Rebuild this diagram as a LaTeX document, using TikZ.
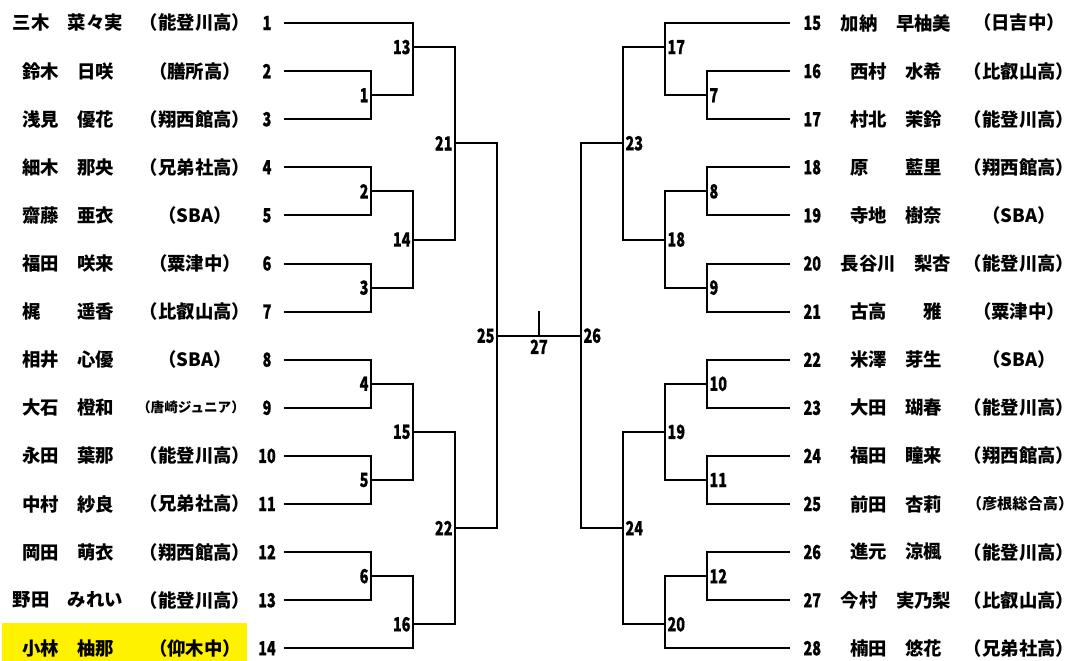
\documentclass[tikz,border=0pt]{standalone}
\usepackage{fontspec}
\setmainfont{Noto Sans CJK JP}
\newfontfamily\numfont{Noto Sans CJK JP}[FakeStretch=0.74,FakeBold=0.6]
\newcommand{\jpsize}{\fontsize{13.8}{16}\selectfont}
\newcommand{\smallsch}{\fontsize{10.2}{12}\selectfont}
\newcommand{\midsch}{\fontsize{11.4}{13}\selectfont}

\tikzset{every picture/.style={line width=0.75pt},
  tline/.style={line width=1.5pt},
  num/.style={inner sep=0.75pt, font={\numfont\bfseries\fontsize{14.6}{16}\selectfont}},
  nm/.style={inner sep=0.75pt, font={\bfseries\jpsize}},
  mL/.style={num, anchor=east, inner sep=1.5pt},
  mR/.style={num, anchor=west, inner sep=1.5pt}}

\begin{document}
\begin{tikzpicture}[x=0.75pt,y=0.75pt,yscale=-1,xscale=1]
\useasboundingbox (0,0) rectangle (1072,661);

%highlight of entry 14
\fill [yellow] (2,623) rectangle (247,661);

%left entries
\node [num] (n1) at (267,23) {1};       \node [nm] (nm1) at (68,23) {三木　菜々実};   \node [nm] (sc1) at (195,23) {（能登川高）};
\node [num] (n2) at (267,71.1) {2};     \node [nm] (nm2) at (68,71.1) {鈴木　日咲};   \node [nm] (sc2) at (195,71.1) {（膳所高）};
\node [num] (n3) at (267,119.2) {3};    \node [nm] (nm3) at (68,119.2) {浅見　優花};  \node [nm] (sc3) at (195,119.2) {（翔西館高）};
\node [num] (n4) at (267,167.3) {4};    \node [nm] (nm4) at (68,167.3) {細木　那央};  \node [nm] (sc4) at (195,167.3) {（兄弟社高）};
\node [num] (n5) at (267,215.4) {5};    \node [nm] (nm5) at (68,215.4) {齋藤　亜衣};  \node [nm] (sc5) at (195,215.4) {（SBA）};
\node [num] (n6) at (267,263.5) {6};    \node [nm] (nm6) at (68,263.5) {福田　咲来};  \node [nm] (sc6) at (195,263.5) {（粟津中）};
\node [num] (n7) at (267,311.6) {7};    \node [nm] (nm7) at (68,311.6) {梶　　遥香};  \node [nm] (sc7) at (195,311.6) {（比叡山高）};
\node [num] (n8) at (267,359.7) {8};    \node [nm] (nm8) at (68,359.7) {相井　心優};  \node [nm] (sc8) at (195,359.7) {（SBA）};
\node [num] (n9) at (267,407.8) {9};    \node [nm] (nm9) at (68,407.8) {大石　橙和};  \node [nm,font={\bfseries\smallsch}] (sc9) at (191,407.8) {（唐崎ジュニア）};
\node [num] (n10) at (267,455.9) {10};  \node [nm] (nm10) at (68,455.9) {永田　葉那}; \node [nm] (sc10) at (195,455.9) {（能登川高）};
\node [num] (n11) at (267,504) {11};    \node [nm] (nm11) at (68,504) {中村　紗良};   \node [nm] (sc11) at (195,504) {（兄弟社高）};
\node [num] (n12) at (267,552.1) {12};  \node [nm] (nm12) at (68,552.1) {岡田　萌衣}; \node [nm] (sc12) at (195,552.1) {（翔西館高）};
\node [num] (n13) at (267,600.2) {13};  \node [nm] (nm13) at (68,600.2) {野田　みれい}; \node [nm] (sc13) at (195,600.2) {（能登川高）};
\node [num] (n14) at (267,648.3) {14};  \node [nm] (nm14) at (68,648.3) {小林　柚那}; \node [nm] (sc14) at (195,648.3) {（仰木中）};

%right entries
\node [num,anchor=west] (n15) at (802,23) {15};    \node [nm] (nm15) at (896,23) {加納　早柚美};    \node [nm] (sc15) at (1019,23) {（日吉中）};
\node [num,anchor=west] (n16) at (802,71.1) {16};  \node [nm] (nm16) at (896,71.1) {西村　水希};    \node [nm] (sc16) at (1019,71.1) {（比叡山高）};
\node [num,anchor=west] (n17) at (802,119.2) {17}; \node [nm] (nm17) at (896,119.2) {村北　茉鈴};   \node [nm] (sc17) at (1019,119.2) {（能登川高）};
\node [num,anchor=west] (n18) at (802,167.3) {18}; \node [nm] (nm18) at (896,167.3) {原　　藍里};   \node [nm] (sc18) at (1019,167.3) {（翔西館高）};
\node [num,anchor=west] (n19) at (802,215.4) {19}; \node [nm] (nm19) at (896,215.4) {寺地　樹奈};   \node [nm] (sc19) at (1019,215.4) {（SBA）};
\node [num,anchor=west] (n20) at (802,263.5) {20}; \node [nm] (nm20) at (896,263.5) {長谷川　梨杏}; \node [nm] (sc20) at (1019,263.5) {（能登川高）};
\node [num,anchor=west] (n21) at (802,311.6) {21}; \node [nm] (nm21) at (896,311.6) {古高　　雅};   \node [nm] (sc21) at (1019,311.6) {（粟津中）};
\node [num,anchor=west] (n22) at (802,359.7) {22}; \node [nm] (nm22) at (896,359.7) {米澤　芽生};   \node [nm] (sc22) at (1019,359.7) {（SBA）};
\node [num,anchor=west] (n23) at (802,407.8) {23}; \node [nm] (nm23) at (896,407.8) {大田　瑚春};   \node [nm] (sc23) at (1019,407.8) {（能登川高）};
\node [num,anchor=west] (n24) at (802,455.9) {24}; \node [nm] (nm24) at (896,455.9) {福田　瞳来};   \node [nm] (sc24) at (1019,455.9) {（翔西館高）};
\node [num,anchor=west] (n25) at (802,504) {25};   \node [nm] (nm25) at (896,504) {前田　杏莉};     \node [nm,font={\bfseries\midsch}] (sc25) at (1020,504) {（彦根総合高）};
\node [num,anchor=west] (n26) at (802,552.1) {26}; \node [nm] (nm26) at (896,552.1) {進元　涼楓};   \node [nm] (sc26) at (1019,552.1) {（能登川高）};
\node [num,anchor=west] (n27) at (802,600.2) {27}; \node [nm] (nm27) at (896,600.2) {今村　実乃梨}; \node [nm] (sc27) at (1019,600.2) {（比叡山高）};
\node [num,anchor=west] (n28) at (802,648.3) {28}; \node [nm] (nm28) at (896,648.3) {楠田　悠花};   \node [nm] (sc28) at (1019,648.3) {（兄弟社高）};

%line ends next to the numbers
\coordinate (L1) at (284,23);      \coordinate (R15) at (790,23);
\coordinate (L2) at (284,71.1);    \coordinate (R16) at (790,71.1);
\coordinate (L3) at (284,119.2);   \coordinate (R17) at (790,119.2);
\coordinate (L4) at (284,167.3);   \coordinate (R18) at (790,167.3);
\coordinate (L5) at (284,215.4);   \coordinate (R19) at (790,215.4);
\coordinate (L6) at (284,263.5);   \coordinate (R20) at (790,263.5);
\coordinate (L7) at (284,311.6);   \coordinate (R21) at (790,311.6);
\coordinate (L8) at (284,359.7);   \coordinate (R22) at (790,359.7);
\coordinate (L9) at (284,407.8);   \coordinate (R23) at (790,407.8);
\coordinate (L10) at (284,455.9);  \coordinate (R24) at (790,455.9);
\coordinate (L11) at (284,504);    \coordinate (R25) at (790,504);
\coordinate (L12) at (284,552.1);  \coordinate (R26) at (790,552.1);
\coordinate (L13) at (284,600.2);  \coordinate (R27) at (790,600.2);
\coordinate (L14) at (284,648.3);  \coordinate (R28) at (790,648.3);

%match points
\coordinate (M1) at (371,95.2);   \coordinate (M7) at (707,95.2);
\coordinate (M2) at (371,191.4);  \coordinate (M8) at (707,191.4);
\coordinate (M3) at (371,287.6);  \coordinate (M9) at (707,287.6);
\coordinate (M4) at (371,383.8);  \coordinate (M10) at (707,383.8);
\coordinate (M5) at (371,480);    \coordinate (M11) at (707,480);
\coordinate (M6) at (371,576.2);  \coordinate (M12) at (707,576.2);
\coordinate (M13) at (413,47.1);  \coordinate (M17) at (665,47.1);
\coordinate (M14) at (413,239.5); \coordinate (M18) at (665,239.5);
\coordinate (M15) at (413,431.9); \coordinate (M19) at (665,431.9);
\coordinate (M16) at (413,624.3); \coordinate (M20) at (665,624.3);
\coordinate (M21) at (455,143.3); \coordinate (M23) at (623,143.3);
\coordinate (M22) at (455,528.1); \coordinate (M24) at (623,528.1);
\coordinate (M25) at (497,335.7); \coordinate (M26) at (581,335.7);
\coordinate (M27) at (539,335.7); \coordinate (M27t) at (539,311);

%left bracket
\draw [tline] (L2) -| (M1) |- (L3);
\draw [tline] (L4) -| (M2) |- (L5);
\draw [tline] (L6) -| (M3) |- (L7);
\draw [tline] (L8) -| (M4) |- (L9);
\draw [tline] (L10) -| (M5) |- (L11);
\draw [tline] (L12) -| (M6) |- (L13);
\draw [tline] (L1) -| (M13) |- (M1);
\draw [tline] (M2) -| (M14) |- (M3);
\draw [tline] (M4) -| (M15) |- (M5);
\draw [tline] (M6) -| (M16) |- (L14);
\draw [tline] (M13) -| (M21) |- (M14);
\draw [tline] (M15) -| (M22) |- (M16);
\draw [tline] (M21) -| (M25) |- (M22);

%right bracket
\draw [tline] (R16) -| (M7) |- (R17);
\draw [tline] (R18) -| (M8) |- (R19);
\draw [tline] (R20) -| (M9) |- (R21);
\draw [tline] (R22) -| (M10) |- (R23);
\draw [tline] (R24) -| (M11) |- (R25);
\draw [tline] (R26) -| (M12) |- (R27);
\draw [tline] (R15) -| (M17) |- (M7);
\draw [tline] (M8) -| (M18) |- (M9);
\draw [tline] (M10) -| (M19) |- (M11);
\draw [tline] (M12) -| (M20) |- (R28);
\draw [tline] (M17) -| (M23) |- (M18);
\draw [tline] (M19) -| (M24) |- (M20);
\draw [tline] (M23) -| (M26) |- (M24);

%final
\draw [tline] (M25) -- (M26);
\draw [tline] (M27t) -- (M27);

%match numbers
\node [mL] (t1) at (M1) {1};     \node [mR] (t7) at (M7) {7};
\node [mL] (t2) at (M2) {2};     \node [mR] (t8) at (M8) {8};
\node [mL] (t3) at (M3) {3};     \node [mR] (t9) at (M9) {9};
\node [mL] (t4) at (M4) {4};     \node [mR] (t10) at (M10) {10};
\node [mL] (t5) at (M5) {5};     \node [mR] (t11) at (M11) {11};
\node [mL] (t6) at (M6) {6};     \node [mR] (t12) at (M12) {12};
\node [mL] (t13) at (M13) {13};  \node [mR] (t17) at (M17) {17};
\node [mL] (t14) at (M14) {14};  \node [mR] (t18) at (M18) {18};
\node [mL] (t15) at (M15) {15};  \node [mR] (t19) at (M19) {19};
\node [mL] (t16) at (M16) {16};  \node [mR] (t20) at (M20) {20};
\node [mL] (t21) at (M21) {21};  \node [mR] (t23) at (M23) {23};
\node [mL] (t22) at (M22) {22};  \node [mR] (t24) at (M24) {24};
\node [mL] (t25) at (M25) {25};  \node [mR] (t26) at (M26) {26};
\node [num, anchor=north, inner sep=2.5pt] (t27) at (M27) {27};

\end{tikzpicture}
\end{document}
